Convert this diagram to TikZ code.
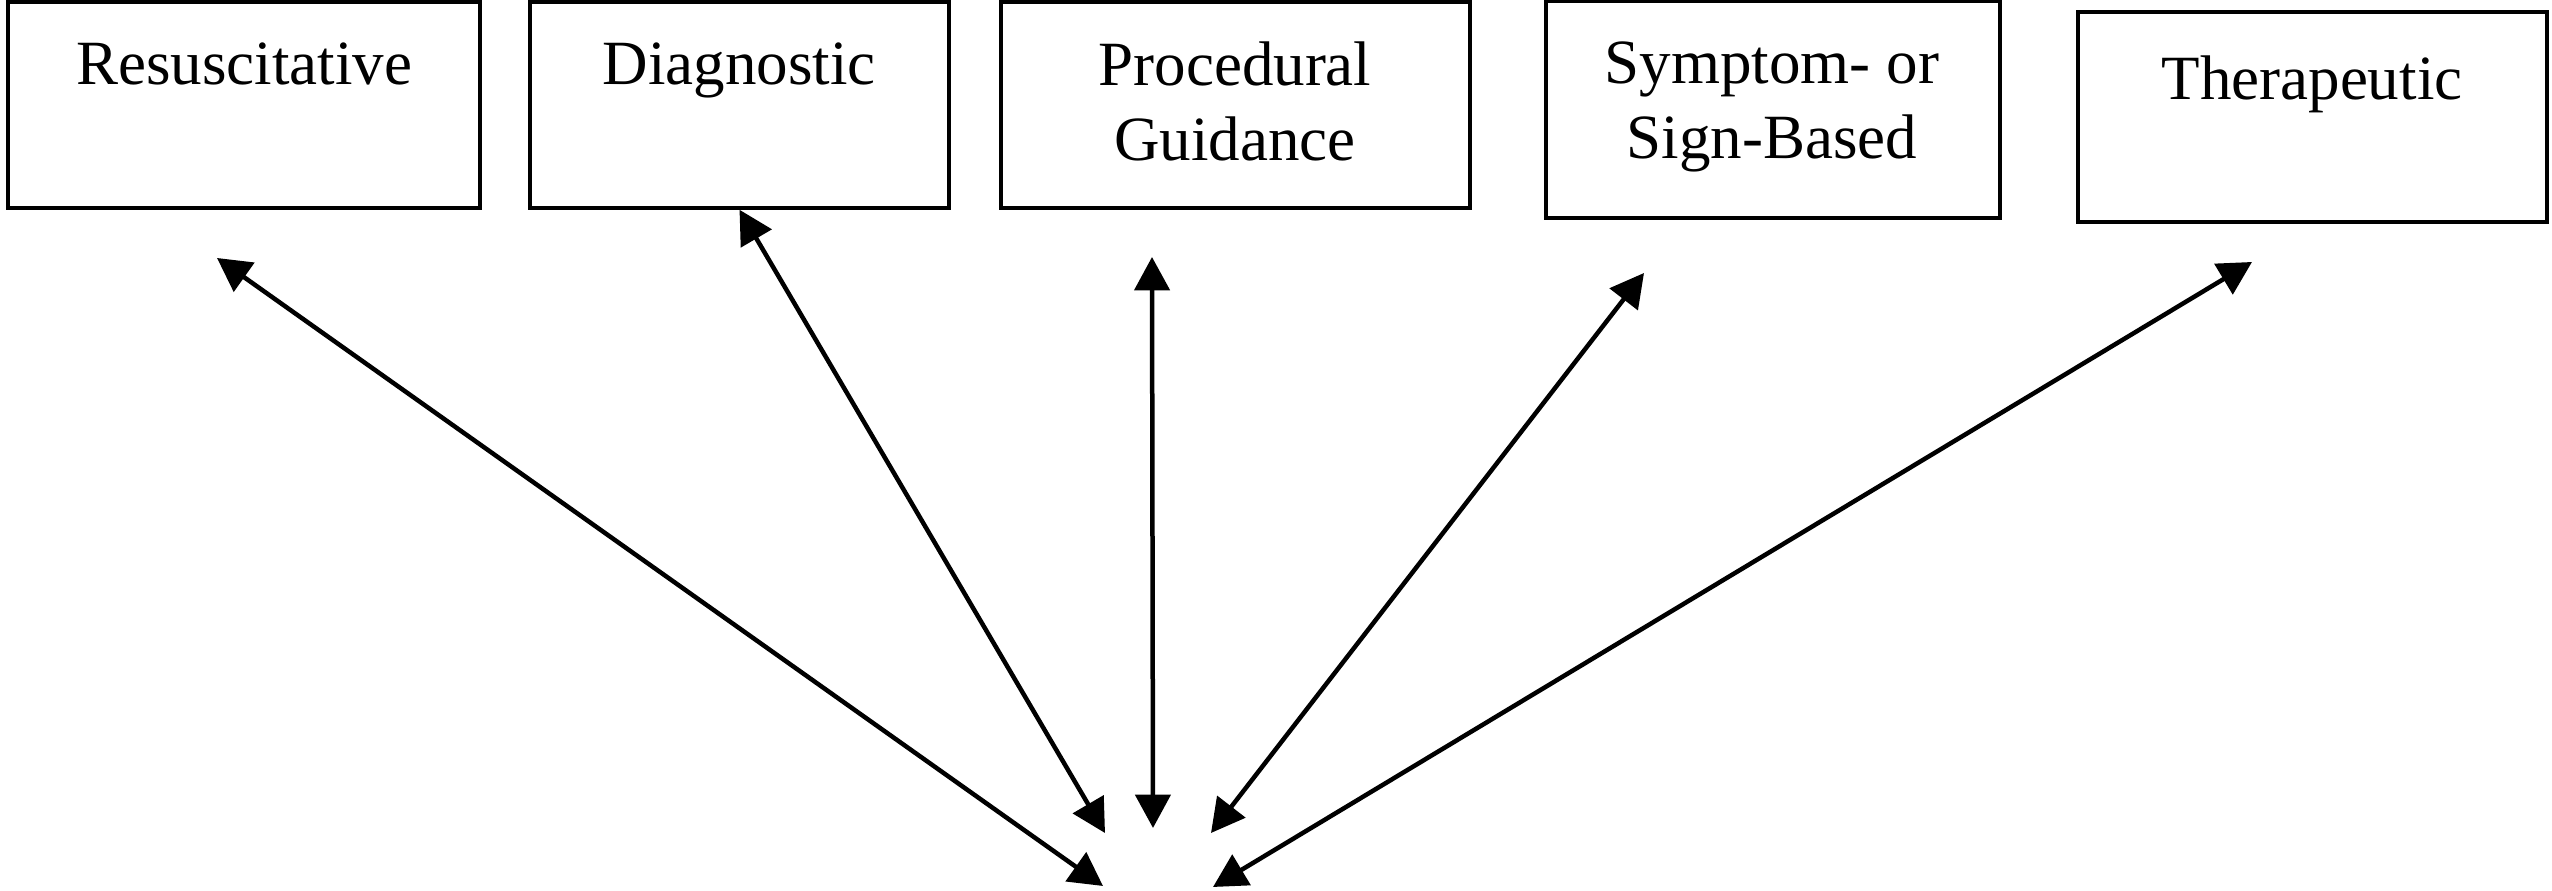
\documentclass[tikz,border=0pt]{standalone}
\usepackage{fontspec}
\setmainfont{Liberation Serif}
\usetikzlibrary{arrows.meta,fit}
\begin{document}
\begin{tikzpicture}[x=0.3pt,y=-0.3pt,
  box/.style={draw, line width=1.05pt, inner sep=0pt},
  lbl/.style={anchor=north, inner sep=0pt, align=center, font=\fontsize{18.9}{22.5}\selectfont},
  link/.style={line width=1.35pt, {Triangle[length=10pt,width=10.5pt]}-{Triangle[length=10pt,width=10.5pt]}}]
\useasboundingbox (0,0) rectangle (2552,891);
\fill[white] (0,0) rectangle (2552,891);
% boxes
\node[box, fit={(8,2) (480,208)}] (b1) {};
\node[box, fit={(530,2) (949,208)}] (b2) {};
\node[box, fit={(1001,2) (1470,208)}] (b3) {};
\node[box, fit={(1546,1) (2000,218)}] (b4) {};
\node[box, fit={(2078,12) (2547,222)}] (b5) {};
% labels
\node[lbl] (t1) at (244,42) {Resuscitative};
\node[lbl] (t2) at (739,42) {Diagnostic};
\node[lbl] (t3) at (1235,41) {Procedural\\Guidance};
\node[lbl] (t4) at (1772,41) {Symptom- or\\Sign-Based};
\node[lbl] (t5) at (2312,55) {Therapeutic};
% arrow ends
\coordinate (h1) at (217,258);
\coordinate (h3) at (1152,257);
\coordinate (h4) at (1644,273);
\coordinate (h5) at (2252,262);
\coordinate (c1) at (1103,886);
\coordinate (c2) at (1105,833);
\coordinate (c3) at (1153,828);
\coordinate (c4) at (1211,833);
\coordinate (c5) at (1213,887);
% connectors
\draw[link] (h1) -- (c1);
\draw[link] (b2.south) -- (c2);
\draw[link] (h3) -- (c3);
\draw[link] (h4) -- (c4);
\draw[link] (h5) -- (c5);
\end{tikzpicture}
\end{document}
